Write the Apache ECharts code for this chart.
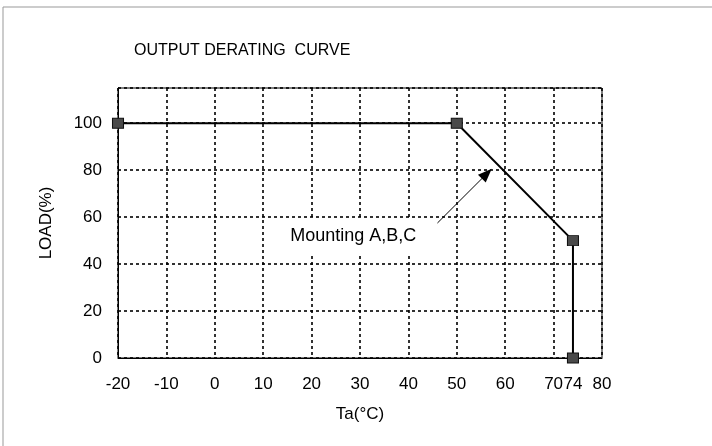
<!DOCTYPE html>
<html>
<head>
<meta charset="utf-8">
<script src="https://cdn.jsdelivr.net/npm/echarts@6/dist/echarts.min.js"></script>
<style>
  html, body { margin: 0; padding: 0; background: #fff; }
  #chart { width: 712px; height: 446px; }
</style>
</head>
<body>
<div id="chart"></div>
<script>
  // derating curve points
  var tempC = [-20, 50, 74, 74];
  var loadPct = [100, 100, 50, 0];
  // x labels incl. the extra 74
  var xTickLabels = [-20, -10, 0, 10, 20, 30, 40, 50, 60, 70, 74, 80];
  var noteText = 'Mounting A,B,C';
  var notePos = [28.6, 51.8];
  var arrowFrom = [46, 57.5];
  var arrowTo = [56.2, 78.5];

  var font = 'Liberation Sans, Arial, sans-serif';
  var dotted = { color: '#000', width: 1.6, type: [3, 3] };

  var chart = echarts.init(document.getElementById('chart'));
  var option = {
    animation: false,
    backgroundColor: '#fff',
    title: {
      text: 'OUTPUT DERATING  CURVE',
      left: 129,
      top: 38,
      textStyle: { fontFamily: font, fontSize: 16, fontWeight: 'normal', color: '#000' }
    },
    graphic: [{
      type: 'rect',
      shape: { x: 3, y: 7, width: 760, height: 500 },
      style: { fill: 'none', stroke: '#999', lineWidth: 1 },
      silent: true
    }],
    grid: {
      left: 118, right: 110, top: 88, bottom: 88,
      show: true, borderColor: '#000', borderWidth: 1
    },
    xAxis: {
      type: 'value',
      min: -20, max: 80, interval: 10,
      name: 'Ta(°C)',
      nameLocation: 'middle',
      nameGap: 48,
      nameTextStyle: { fontFamily: font, fontSize: 17, color: '#000' },
      axisLine: { show: true, onZero: false, lineStyle: { color: '#000', width: 1 } },
      axisTick: { show: false },
      axisLabel: {
        customValues: xTickLabels,
        margin: 18,
        fontFamily: font, fontSize: 17, color: '#000'
      },
      splitLine: { show: true, lineStyle: dotted }
    },
    yAxis: {
      type: 'value',
      min: 0, max: 115, interval: 20,
      name: 'LOAD(%)',
      nameLocation: 'middle',
      nameRotate: 90,
      nameGap: 63,
      nameTextStyle: { fontFamily: font, fontSize: 17, color: '#000' },
      axisLine: { show: true, onZero: false, lineStyle: { color: '#000', width: 1 } },
      axisTick: { show: false },
      axisLabel: {
        showMaxLabel: false,
        margin: 16,
        fontFamily: font, fontSize: 17, color: '#000'
      },
      splitLine: { show: true, lineStyle: dotted }
    },
    series: [{
      type: 'line',
      data: tempC.map(function (t, i) { return [t, loadPct[i]]; }),
      symbol: 'rect',
      symbolSize: [11, 10],
      showAllSymbol: true,
      lineStyle: { color: '#000', width: 2 },
      itemStyle: { color: '#4a4a4a', borderColor: '#111', borderWidth: 1 },
      markLine: {
        silent: true,
        symbol: ['none', 'triangle'],
        symbolSize: [11, 14],
        lineStyle: { color: '#000', width: 1, type: 'solid' },
        itemStyle: { color: '#444' },
        label: { show: false },
        data: [[{ coord: arrowFrom }, { coord: arrowTo }]]
      },
      markPoint: {
        silent: true,
        symbol: 'circle',
        symbolSize: 0,
        label: {
          show: true,
          formatter: noteText,
          position: 'inside',
          backgroundColor: '#fff',
          padding: [9, 6],
          fontFamily: font, fontSize: 18, color: '#000'
        },
        data: [{ coord: notePos }]
      }
    }]
  };
  chart.setOption(option);
</script>
</body>
</html>
